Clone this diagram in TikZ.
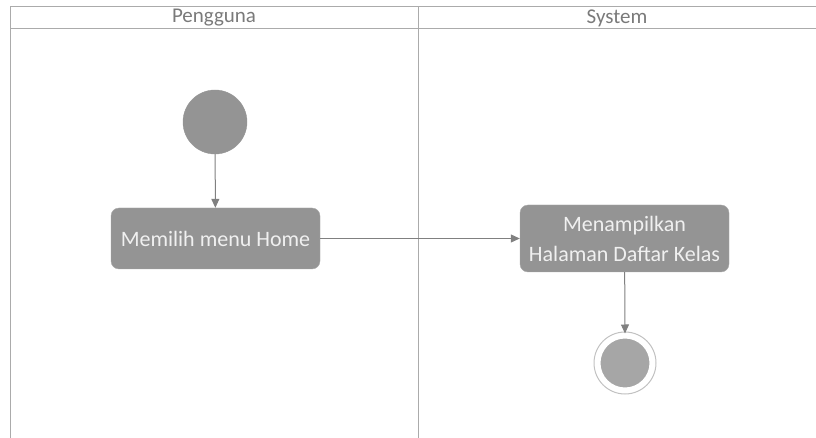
\documentclass[tikz,border=0pt]{standalone}
\usepackage{fontspec}
\setmainfont{Carlito}
\usepackage{tikz}
\usetikzlibrary{arrows.meta,positioning}
\definecolor{Lane}{HTML}{ABABAB}
\definecolor{LaneText}{HTML}{7A7A7A}
\definecolor{Act}{HTML}{949494}
\definecolor{Flow}{HTML}{808080}
\definecolor{EndRing}{HTML}{A6A6A6}
\tikzset{
  lane/.style={draw=Lane,line width=1pt},
  lanehead/.style={text=LaneText,font=\fontsize{21}{24}\selectfont,inner sep=0pt},
  action/.style={draw=Act!80!white,fill=Act,rounded corners=8pt,text=white!94!black,align=center,font=\fontsize{22}{30}\selectfont,inner sep=0pt},
  startnode/.style={circle,fill=Act,draw=Act,minimum size=64pt,inner sep=0pt},
  endnode/.style={circle,fill=EndRing,draw=white,line width=5pt,minimum size=54pt,inner sep=0pt},
  flow/.style={-{Triangle[length=9pt,width=8pt]},draw=Flow,line width=1pt}
}
\begin{document}
\begin{tikzpicture}[x=1pt,y=-1pt]
  \useasboundingbox (0,0) rectangle (816,438);
  % swimlanes
  \draw[lane] (816,7) -- (10,7) -- (10,438);
  \draw[lane] (10,29) -- (816,29);
  \draw[lane] (418,7) -- (418,438);
  \node[lanehead] (pengguna) at (214,18) {Pengguna};
  \node[lanehead] (system) at (617,18) {System};
  % activities
  \node[startnode] (start) at (215,122) {};
  \node[action,minimum width=209pt,minimum height=61pt] (pilih) at (215.5,238.5) {Memilih menu Home};
  \node[action,minimum width=209pt,minimum height=67pt] (tampil) at (624.5,238.5) {Menampilkan\\Halaman Daftar Kelas};
  \node[endnode] (end) at (625,363) {};
  \draw[EndRing!70!white,line width=1pt] (end) circle (31pt);
  % flows
  \draw[flow] (start) -- (pilih);
  \draw[flow] (pilih) -- (tampil);
  \draw[flow] (tampil) -- (end.north);
\end{tikzpicture}
\end{document}
